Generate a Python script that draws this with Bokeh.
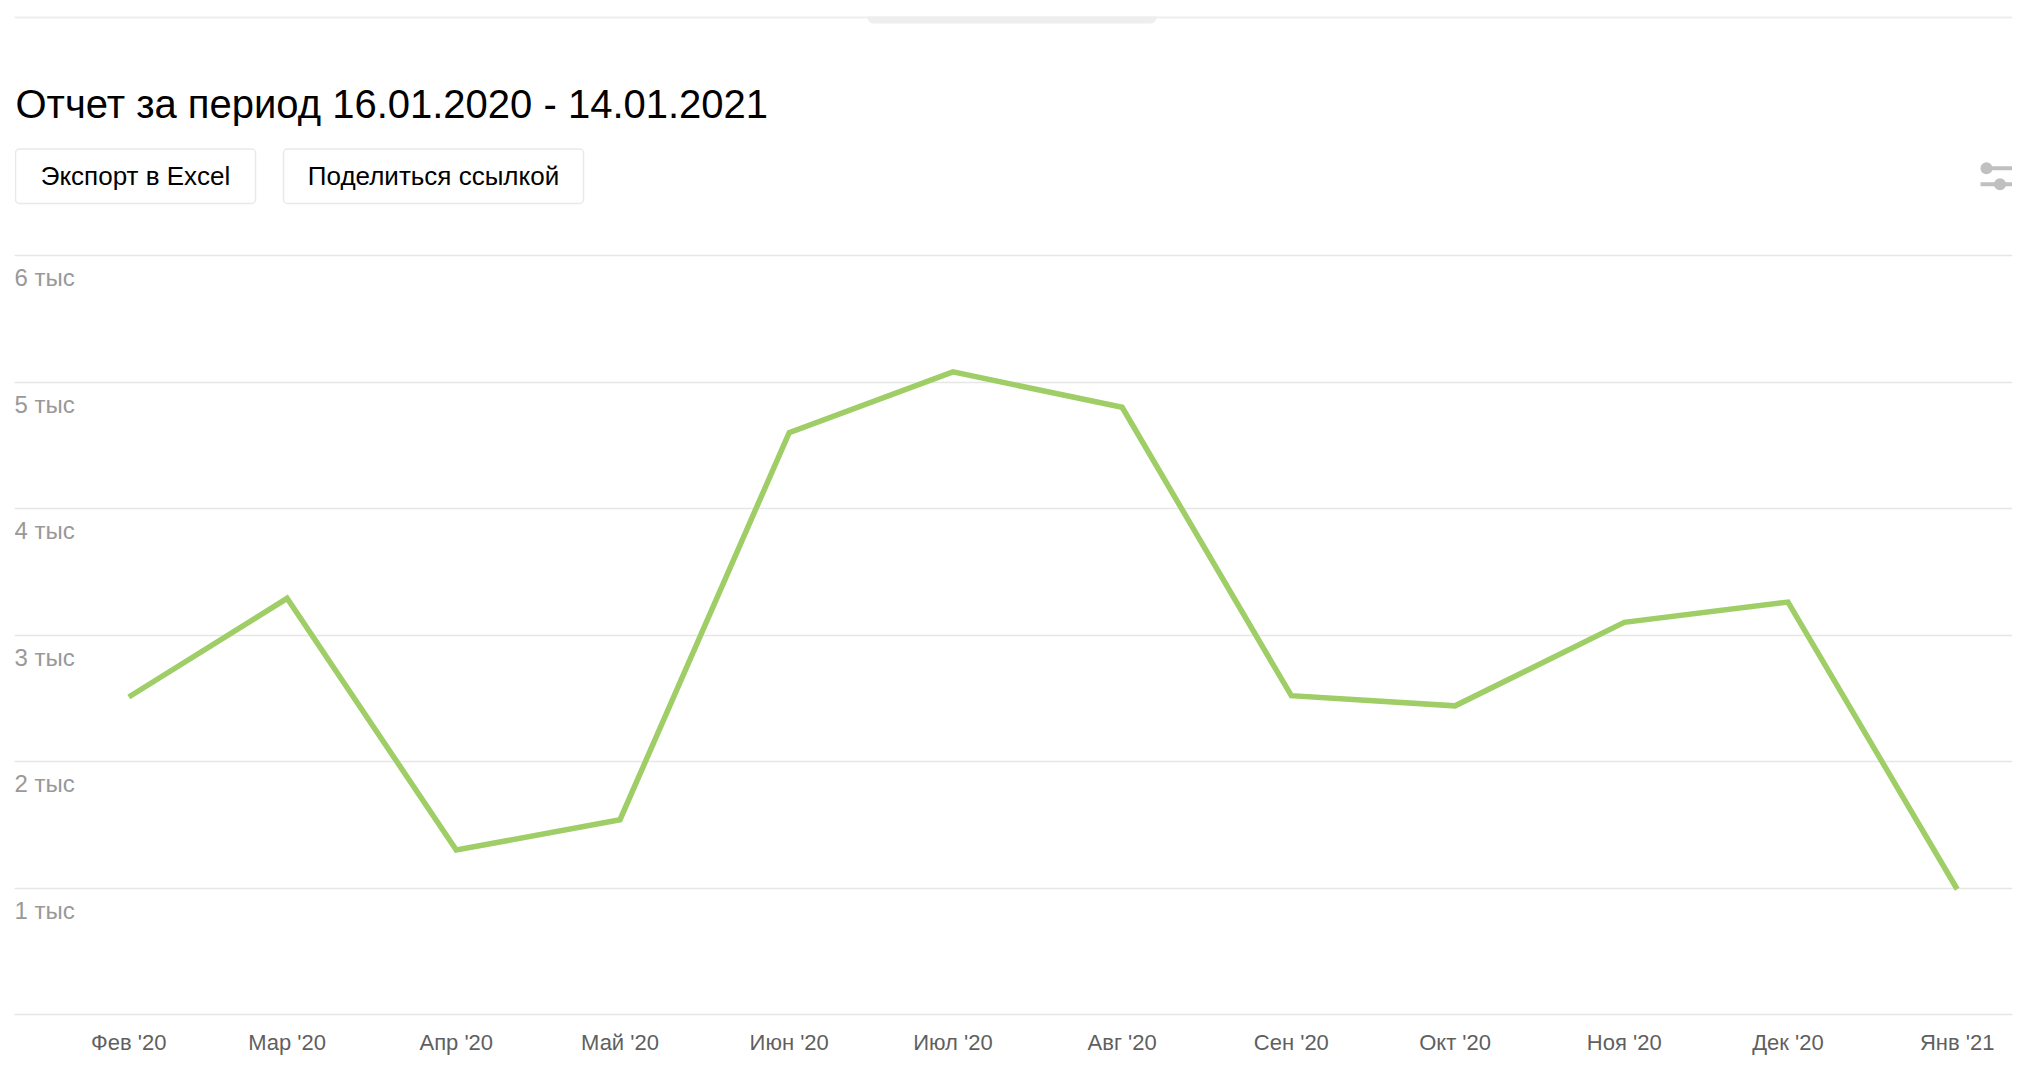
import pandas as pd
from bokeh.plotting import figure
from bokeh.models import (Range1d, FixedTicker, CustomJSTickFormatter,
                          Label, BoxAnnotation, Span)
from bokeh.core.properties import value
from bokeh.embed import file_html
from bokeh.resources import INLINE

# ---------------- data ----------------
months = ["2020-02-01", "2020-03-01", "2020-04-01", "2020-05-01", "2020-06-01",
          "2020-07-01", "2020-08-01", "2020-09-01", "2020-10-01", "2020-11-01",
          "2020-12-01", "2021-01-01"]
month_labels = ["Фев '20", "Мар '20", "Апр '20", "Май '20", "Июн '20", "Июл '20",
                "Авг '20", "Сен '20", "Окт '20", "Ноя '20", "Дек '20", "Янв '21"]
visits = [2510, 3290, 1300, 1540, 4600, 5080, 4800, 2520, 2440, 3100, 3260, 990]
y_ticks = [0, 1000, 2000, 3000, 4000, 5000, 6000]
y_tick_labels = ["1 тыс", "2 тыс", "3 тыс", "4 тыс", "5 тыс", "6 тыс"]
y_label_values = [1000, 2000, 3000, 4000, 5000, 6000]
title_text = "Отчет за период 16.01.2020 - 14.01.2021"
button_texts = ["Экспорт в Excel", "Поделиться ссылкой"]

FONT = "Liberation Sans"
DAY = 86400000.0
x_ms = [pd.Timestamp(m).value / 1e6 for m in months]

# ---------------- geometry (page pixels) ----------------
W, H = 2022, 1070
FRAME_LEFT, FRAME_RIGHT, FRAME_BOTTOM = 14, 2012, 1014
BL, BR, BT = FRAME_LEFT, W - FRAME_RIGHT, 0
FRAME_H = FRAME_BOTTOM
BB = H - FRAME_H
FRAME_W = FRAME_RIGHT - FRAME_LEFT
PX_PER_DAY = (1956.7 - 128.3) / 335.0
x_start = x_ms[0] - (128.3 - FRAME_LEFT) / PX_PER_DAY * DAY
x_end = x_start + FRAME_W / PX_PER_DAY * DAY
y_end = 6000 * FRAME_H / (FRAME_H - 255)

def px_x(px):  # page px -> data x
    return x_start + (px - FRAME_LEFT) / PX_PER_DAY * DAY

def px_y(py):  # page px -> data y
    return (FRAME_BOTTOM - py) * y_end / FRAME_H

p = figure(width=W, height=H, output_backend="svg", toolbar_location=None,
           x_axis_type="datetime", y_axis_location=None,
           x_range=Range1d(x_start, x_end), y_range=Range1d(0, y_end),
           min_border_left=BL, min_border_right=BR, min_border_top=BT,
           min_border_bottom=BB)
p.outline_line_color = None
p.background_fill_color = "white"
p.border_fill_color = "white"
p.xgrid.visible = False

# horizontal grid
p.ygrid.ticker = FixedTicker(ticks=y_ticks)
p.ygrid.grid_line_color = "#e6e6e6"
p.ygrid.grid_line_width = 1.5

# x axis
xa = p.xaxis[0]
xa.ticker = FixedTicker(ticks=x_ms)
xa.formatter = CustomJSTickFormatter(args=dict(tvals=x_ms, tlabels=month_labels), code="""
    for (let i = 0; i < tvals.length; i++) {
        if (Math.abs(tvals[i] - tick) < 1000) { return tlabels[i]; }
    }
    return '';
""")
xa.axis_line_color = "#e6e6e6"
xa.axis_line_width = 1.5
xa.major_tick_line_color = None
xa.minor_tick_line_color = None
xa.major_tick_out = 0
xa.major_label_standoff = 15
xa.major_label_text_font = FONT
xa.major_label_text_font_size = "22px"
xa.major_label_text_color = "#5f5f5f"

# y tick labels inside the plot, under each grid line
p.text(x=[x_start] * len(y_label_values), y=y_label_values, text=y_tick_labels,
       text_font=value(FONT), text_font_size="24px", text_color="#999999",
       text_align="left", text_baseline="middle", y_offset=22)

# data line
p.line(x_ms, visits, line_color="#9fcd66", line_width=5.5, line_join="miter")

# ---------------- page chrome ----------------
p.add_layout(Span(location=px_y(17), dimension="width", line_color="#eeeeee", line_width=2))
p.add_layout(BoxAnnotation(left=px_x(867), right=px_x(1156), top=px_y(16), bottom=px_y(23),
                           fill_color="#eeeeee", fill_alpha=1, line_color=None,
                           border_radius=(0, 0, 6, 6)))

p.add_layout(Label(x=px_x(15), y=px_y(103), text=title_text, text_font=FONT,
                   text_font_size="40px", text_color="#000000",
                   text_baseline="middle", text_align="left"))

btn_boxes = [(15, 255), (283, 583)]
for (l, r), t in zip(btn_boxes, button_texts):
    p.add_layout(BoxAnnotation(left=px_x(l), right=px_x(r), top=px_y(148.5), bottom=px_y(203),
                               fill_color="white", fill_alpha=1, line_color="#b5b5b5",
                               line_width=1.5, border_radius=4))
    p.add_layout(Label(x=px_x((l + r) / 2), y=px_y(175), text=t, text_font=FONT,
                       text_font_size="26px", text_color="#000000",
                       text_baseline="middle", text_align="center"))

# settings icon
p.segment(x0=[px_x(1985), px_x(1980)], y0=[px_y(167.7), px_y(183.7)],
          x1=[px_x(2011.5), px_x(2011.5)], y1=[px_y(167.7), px_y(183.7)],
          line_color="#c0c0c0", line_width=4)
p.scatter(x=[px_x(1986), px_x(1999.5)], y=[px_y(167.7), px_y(183.7)], size=12,
          marker="circle", fill_color="#c0c0c0", line_color=None)

open("out.html", "w").write(file_html(p, INLINE))
